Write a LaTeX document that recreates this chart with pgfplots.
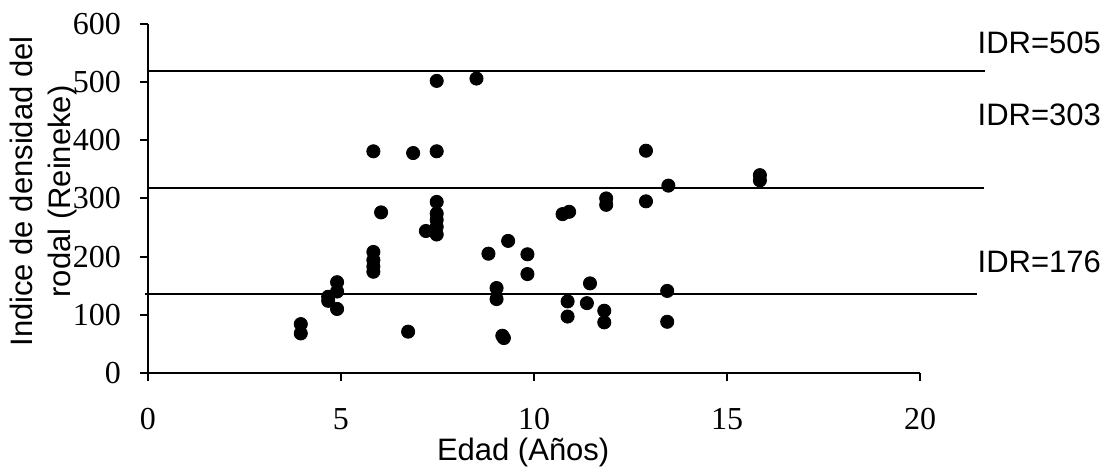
\documentclass[border=0pt]{standalone}
\usepackage{fontspec}
\setmainfont{Liberation Serif}
\newfontfamily\sansf{Liberation Sans}
\usepackage{pgfplots}
\pgfplotsset{compat=1.18}

\pgfplotstableread{
x y
3.96 84
3.96 68
4.67 131
4.67 124
4.90 156
4.90 140
4.90 110
5.84 381
5.84 208
5.84 194
5.84 183
5.84 174
6.04 276
6.74 71
6.87 378
7.20 244
7.48 502
7.48 381
7.48 294
7.48 274
7.48 263
7.48 251
7.48 238
8.51 506
8.82 205
9.03 146
9.03 127
9.18 64
9.22 60
9.33 227
9.83 204
9.83 170
10.74 273
10.91 277
10.87 123
10.87 97
11.37 120
11.45 154
11.82 107
11.82 87
11.87 300
11.87 289
12.90 382
12.90 295
13.45 141
13.45 88
13.48 322
15.85 340
15.85 331
}\datos

\begin{document}
\begin{tikzpicture}
\begin{axis}[
  scale only axis,
  width=386pt, height=174.5pt,
  xmin=0, xmax=20, ymin=0, ymax=600,
  xtick={0,5,...,20}, ytick={0,100,...,600},
  axis lines=left,
  axis line style={-, line width=1pt},
  tick align=outside,
  major tick length=4pt,
  tick style={black, line width=1pt},
  clip=false,
  /pgf/number format/assume math mode=true,
  ticklabel style={font=\fontsize{16}{19}\selectfont},
  xticklabel style={yshift=-10pt},
  yticklabel style={xshift=-6pt},
  xlabel={Edad (Años)},
  ylabel={Indice de densidad del\\rodal (Reineke)},
  xlabel style={font=\sansf\fontsize{15.5}{18}\selectfont, at={(axis description cs:0.486,-0.227)}, anchor=center},
  ylabel style={font=\sansf\fontsize{15.5}{19}\selectfont, align=center, at={(axis description cs:-0.135,0.52)}, anchor=center},
]
% recuadro de la figura completa
\path (axis cs:-3.83,-160) rectangle (axis cs:24.84,641);
\addplot[black, line width=0.75pt] coordinates {(0,519) (21.68,519)};
\addplot[black, line width=0.75pt] coordinates {(0,318) (21.66,318)};
\addplot[black, line width=0.75pt] coordinates {(-0.08,136) (21.48,136)};
\addplot[only marks, mark=*, mark size=3.3pt, black] table[x=x,y=y] {\datos};
\node[anchor=west, inner sep=0pt, font=\sansf\fontsize{15.5}{18}\selectfont] at (axis cs:21.48,567) {IDR=505};
\node[anchor=west, inner sep=0pt, font=\sansf\fontsize{15.5}{18}\selectfont] at (axis cs:21.48,443) {IDR=303};
\node[anchor=west, inner sep=0pt, font=\sansf\fontsize{15.5}{18}\selectfont] at (axis cs:21.48,191) {IDR=176};
\end{axis}
\end{tikzpicture}
\end{document}
